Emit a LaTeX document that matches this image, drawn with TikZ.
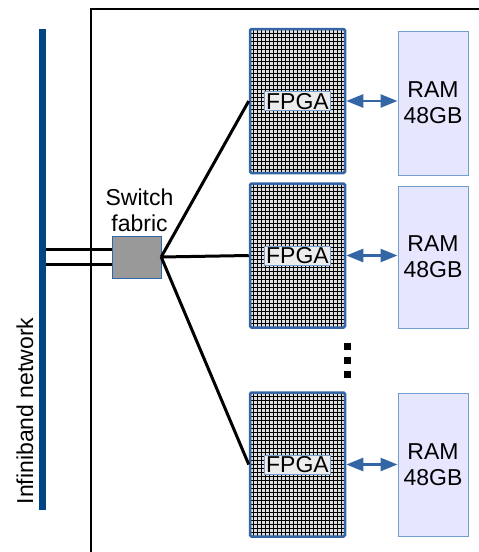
\documentclass[tikz,border=0pt]{standalone}
\usepackage{fontspec}
\setmainfont{Liberation Sans}
\usetikzlibrary{arrows.meta, positioning, calc}
\definecolor{ibblue}{RGB}{0,69,134}
\definecolor{edgeblue}{RGB}{52,101,164}
\definecolor{ramfill}{RGB}{230,230,255}
\definecolor{ramedge}{RGB}{114,159,207}

\tikzset{
  txt/.style={font=\fontsize{23}{26}\selectfont, align=center},
  fpgabox/.style={draw=edgeblue, fill=gray!25, line width=2.5pt, rounded corners=1.5pt,
    minimum width=95pt, minimum height=144pt, inner sep=0pt,
    path picture={\draw[black, line width=1pt, step=4pt]
      (path picture bounding box.south west) grid (path picture bounding box.north east);}},
  fpgalbl/.style={txt, draw=ramedge, fill=gray!15, inner xsep=1.5pt, inner ysep=1.5pt,
    text height=16pt, text depth=0pt},
  rambox/.style={txt, draw=ramedge, fill=ramfill, line width=1pt, minimum width=70pt},
  link/.style={line width=3pt},
  memlink/.style={edgeblue, line width=2.5pt,
    {Triangle[length=17pt,width=13pt]}-{Triangle[length=17pt,width=13pt]}}
}

\begin{document}
\begin{tikzpicture}[x=1pt, y=-1pt, line cap=butt]
  \useasboundingbox (0,0) rectangle (479,552);
  %\draw [step=10, very thin, lightgray] (0,0) grid (479,552);
  \draw [line width=1.3pt] (91,552) -- (91,9) -- (479,9);

  % infiniband bar
  \fill [ibblue] (39,29) rectangle (46,510);
  \node [txt, rotate=90] (ibtxt) at (25,411) {Infiniband network};
  \coordinate (ib1) at (46,249);
  \coordinate (ib2) at (46,264);

  % switch
  \node [draw=edgeblue, fill=gray!80, minimum width=49pt, minimum height=42pt, inner sep=0pt]
    (switch) at (136.5,257) {};
  \node [txt, above=1pt of switch, xshift=3pt] (switchlbl) {Switch\\fabric};
  \draw [link] (ib1) -- (ib1 -| switch.west);
  \draw [link] (ib2) -- (ib2 -| switch.west);

  % fpgas and ram
  \node [fpgabox] (fpga1) at (297.5,101) {};
  \node [fpgabox] (fpga2) at (297.5,255.5) {};
  \node [fpgabox] (fpga3) at (297.5,464.5) {};
  \node [fpgalbl] (lbl1) at (fpga1.center) {FPGA};
  \node [fpgalbl] (lbl2) at (fpga2.center) {FPGA};
  \node [fpgalbl] (lbl3) at (fpga3.center) {FPGA};

  \node [rambox, minimum height=144pt] (ram1) at (433,103) {RAM\\48GB};
  \node [rambox, minimum height=142pt] (ram2) at (433,257) {RAM\\48GB};
  \node [rambox, minimum height=143pt] (ram3) at (433,464.5) {RAM\\48GB};

  \draw [link] (switch.east) -- (fpga1.west);
  \draw [link] (switch.east) -- (fpga2.west);
  \draw [link] (switch.east) -- (fpga3.west);

  \draw [memlink] (fpga1.east) -- (fpga1.east -| ram1.west);
  \draw [memlink] (fpga2.east) -- (fpga2.east -| ram2.west);
  \draw [memlink] (fpga3.east) -- (fpga3.east -| ram3.west);

  % dots
  \foreach \y in {346,360,374}
    \fill (343.5,\y-3.5) rectangle ++(7,7);
\end{tikzpicture}
\end{document}
